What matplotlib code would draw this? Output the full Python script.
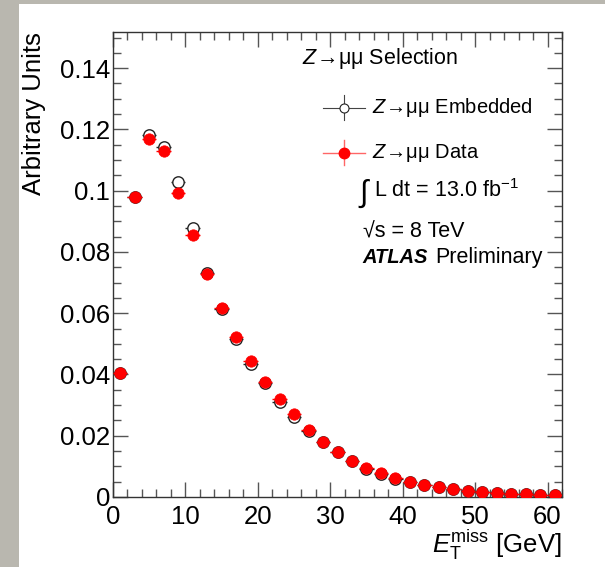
from matplotlib import pyplot as plt
from matplotlib.patches import Rectangle
from matplotlib.ticker import MultipleLocator, FixedLocator
import numpy as np

plt.rcParams['font.family'] = ['Liberation Sans', 'DejaVu Sans']
plt.rcParams['mathtext.fontset'] = 'custom'
plt.rcParams['mathtext.rm'] = 'Liberation Sans'
plt.rcParams['mathtext.it'] = 'Liberation Sans:italic'
plt.rcParams['mathtext.bf'] = 'Liberation Sans:bold'

# bin centres [GeV], bin width 2 GeV
met_bins = [1, 3, 5, 7, 9, 11, 13, 15, 17, 19, 21, 23, 25, 27, 29, 31,
            33, 35, 37, 39, 41, 43, 45, 47, 49, 51, 53, 55, 57, 59, 61]
half_width = 1.0

# Z->mumu embedded (open circles)
embedded = [0.0405, 0.0980, 0.1181, 0.1143, 0.1027, 0.0879, 0.0732, 0.0615,
            0.0516, 0.0434, 0.0371, 0.0311, 0.0262, 0.0216, 0.0178, 0.0147,
            0.0118, 0.0093, 0.0076, 0.0060, 0.0049, 0.0038, 0.0032, 0.0025,
            0.0020, 0.0017, 0.0013, 0.0011, 0.0009, 0.0007, 0.0006]
# Z->mumu data (red filled)
zdata = [0.0405, 0.0978, 0.1168, 0.1129, 0.0993, 0.0854, 0.0727, 0.0617,
         0.0521, 0.0444, 0.0376, 0.0320, 0.0271, 0.0219, 0.0180, 0.0148,
         0.0119, 0.0094, 0.0077, 0.0061, 0.0050, 0.0038, 0.0033, 0.0025,
         0.0021, 0.0017, 0.0013, 0.0011, 0.0009, 0.0007, 0.0006]

y_ticks = [0, 0.02, 0.04, 0.06, 0.08, 0.1, 0.12, 0.14]
y_ticklabels = ["0", "0.02", "0.04", "0.06", "0.08", "0.1", "0.12", "0.14"]
x_ticks = [0, 10, 20, 30, 40, 50, 60]
x_ticklabels = ["0", "10", "20", "30", "40", "50", "60"]

fig = plt.figure(figsize=(6.05, 5.67), dpi=100)
fig.patch.set_facecolor('#b9b7af')
# white page behind the plot
fig.patches.append(Rectangle((19 / 605, 0), 1 - 19 / 605, 1 - 4 / 567,
                             transform=fig.transFigure, facecolor='white',
                             edgecolor='none', zorder=-10))

ax = fig.add_axes([113 / 605, 70 / 567, 449 / 605, 465 / 567])
ax.set_zorder(1)
ax.set_facecolor('white')

xerr = [half_width] * len(met_bins)
ax.errorbar(met_bins, embedded, xerr=xerr, fmt='o', ms=8.2, mfc='white',
            mec='#222222', mew=1.0, ecolor='#222222', elinewidth=1.0,
            capsize=0, zorder=3)
ax.errorbar(met_bins, zdata, xerr=xerr, fmt='o', ms=8.2, mfc='red',
            mec='red', mew=0.5, ecolor='red', elinewidth=1.0,
            capsize=0, zorder=4)

ax.set_xlim(0, 62)
ax.set_ylim(0, 0.1518)

ax.yaxis.set_major_locator(FixedLocator(y_ticks))
ax.set_yticklabels(y_ticklabels)
ax.yaxis.set_minor_locator(MultipleLocator(0.005))
ax.xaxis.set_major_locator(FixedLocator(x_ticks))
ax.set_xticklabels(x_ticklabels)
ax.xaxis.set_minor_locator(MultipleLocator(2))

ax.tick_params(which='both', direction='in', top=True, right=True,
               color='#555555', width=1.0, labelsize=18.5)
ax.tick_params(which='major', length=11)
ax.tick_params(which='minor', length=5.5)
ax.tick_params(axis='y', pad=2)
ax.tick_params(axis='x', pad=6)
for s in ax.spines.values():
    s.set_color('#333333')
    s.set_linewidth(1.0)

ax.set_ylabel("Arbitrary Units", fontsize=18.5, loc='top')
ax.yaxis.set_label_coords(-0.150, 1.0)
ax.set_xlabel(r"$E_{\mathrm{T}}^{\mathrm{miss}}$ [GeV]", fontsize=18.5, loc='right')
ax.xaxis.set_label_coords(1.0, -0.066)

# legend / labels
tr = ax.transAxes
ax.text(0.421, 0.944, r"$Z\!\rightarrow\!\mathrm{\mu\mu}$ Selection", transform=tr,
        fontsize=15.5, va='center', ha='left')

# legend entries drawn ROOT-style (cross + marker)
ax.plot([0.468, 0.561], [0.837, 0.837], color='#444444', lw=0.8, transform=tr, clip_on=False)
ax.plot([0.5145, 0.5145], [0.810, 0.864], color='#444444', lw=0.8, transform=tr, clip_on=False)
ax.plot([0.5145], [0.837], 'o', ms=6.5, mfc='white', mec='#222222', mew=0.8, transform=tr, clip_on=False)
ax.text(0.577, 0.837, r"$Z\!\rightarrow\!\mathrm{\mu\mu}$ Embedded", transform=tr,
        fontsize=14.5, va='center', ha='left')

ax.plot([0.468, 0.561], [0.740, 0.740], color='#ff6666', lw=1.0, transform=tr, clip_on=False)
ax.plot([0.5145, 0.5145], [0.713, 0.767], color='#ff6666', lw=1.0, transform=tr, clip_on=False)
ax.plot([0.5145], [0.740], 'o', ms=7.5, mfc='red', mec='red', transform=tr, clip_on=False)
ax.text(0.577, 0.740, r"$Z\!\rightarrow\!\mathrm{\mu\mu}$ Data", transform=tr,
        fontsize=14.5, va='center', ha='left')

ax.text(0.546, 0.652, r"$\int$", transform=tr, fontsize=22, va='center', ha='left')
ax.text(0.582, 0.660, r"L dt = 13.0 fb$^{\mathrm{-1}}$", transform=tr,
        fontsize=15.5, va='center', ha='left')
ax.text(0.557, 0.570, "\u221as = 8 TeV", transform=tr, fontsize=15.5, va='center', ha='left')
ax.text(0.555, 0.516, "ATLAS", transform=tr, fontsize=14.5, va='center', ha='left',
        fontweight='bold', fontstyle='italic')
ax.text(0.717, 0.516, "Preliminary", transform=tr, fontsize=15.5, va='center', ha='left')

fig.savefig("out.png", dpi=100, facecolor=fig.get_facecolor())
